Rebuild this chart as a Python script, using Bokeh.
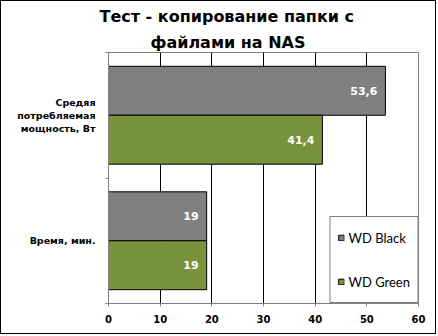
from bokeh.plotting import figure
from bokeh.models import Range1d, FixedTicker, Title
from bokeh.core.properties import value
from bokeh.embed import file_html
from bokeh.resources import INLINE

# ---- data ----
title_lines = ["Тест - копирование папки с", "файлами на NAS"]
categories = ["Средяя\nпотребляемая\nмощность, Вт", "Время, мин."]
series_names = ["WD Black", "WD Green"]
wd_black = [53.6, 19]
wd_green = [41.4, 19]
x_ticks = [0, 10, 20, 30, 40, 50, 60]

colors = ["#808080", "#77933C"]
series_values = [wd_black, wd_green]

p = figure(width=436, height=334, output_backend="svg", toolbar_location=None,
           x_range=Range1d(0, 60), y_range=Range1d(len(categories), 0),
           min_border_left=107, min_border_right=19, min_border_top=51,
           min_border_bottom=32, background_fill_color="white",
           border_fill_color="white")
p.title = None
p.styles = {"border": "1px solid black"}

# title lines: added bottom line first (closest to the frame)
title_offsets = [-9, 42]
title_paddings = [(0, 0, 0, 0), (0, 0, 9, 0)]
title_standoffs = [0, -3]
title_valign = ["bottom", "top"]
for i in reversed(range(len(title_lines))):
    t = Title(text=title_lines[i], align="left", offset=title_offsets[i],
              text_font="DejaVu Sans", text_font_style="bold",
              text_font_size="16px", text_color="black",
              standoff=title_standoffs[i], padding=title_paddings[i],
              vertical_align=title_valign[i])
    p.add_layout(t, "above")

p.outline_line_color = "#808080"
p.outline_line_width = 1

# grid
p.ygrid.grid_line_color = None
p.xgrid.grid_line_color = "black"
p.xgrid.grid_line_width = 1

# x axis
p.xaxis.ticker = FixedTicker(ticks=x_ticks, minor_ticks=[])
p.xaxis.axis_line_color = "#808080"
p.xaxis.major_tick_line_color = "#808080"
p.xaxis.major_tick_out = 3
p.xaxis.major_tick_in = 0
p.xaxis.minor_tick_line_color = None
p.xaxis.major_label_text_font = "DejaVu Sans"
p.xaxis.major_label_text_font_style = "bold"
p.xaxis.major_label_text_font_size = "10px"
p.xaxis.major_label_text_color = "black"
p.xaxis.major_label_standoff = 8

# y axis (categories at centers, tick marks at boundaries)
centers = [i + 0.5 for i in range(len(categories))]
bounds = [i for i in range(len(categories) + 1)]
p.yaxis.ticker = FixedTicker(ticks=centers, minor_ticks=bounds)
p.yaxis.major_label_overrides = {c: lab for c, lab in zip(centers, categories)}
p.yaxis.axis_line_color = "#808080"
p.yaxis.major_tick_line_color = None
p.yaxis.minor_tick_line_color = "#808080"
p.yaxis.minor_tick_out = 3
p.yaxis.minor_tick_in = 0
p.yaxis.major_label_text_font = "DejaVu Sans"
p.yaxis.major_label_text_font_style = "bold"
p.yaxis.major_label_text_font_size = "9.5px"
p.yaxis.major_label_text_color = "black"
p.yaxis.major_label_standoff = 7
p.yaxis.major_label_text_align = "center"

# bars
bar_h = 0.39
offsets = [-bar_h / 2, bar_h / 2]
for name, vals, col, off in zip(series_names, series_values, colors, offsets):
    ys = [c + off for c in centers]
    p.hbar(y=ys, left=0, right=vals, height=bar_h, fill_color=col,
           line_color="black", line_width=1, legend_label=name)
    labels = [f"{v:g}".replace(".", ",") for v in vals]
    p.text(x=vals, y=ys, text=labels, x_offset=-8, text_align="right",
           text_baseline="middle", text_color="white",
           text_font=value("DejaVu Sans"), text_font_style="bold",
           text_font_size="11px")

# legend
lg = p.legend[0]
lg.location = "bottom_right"
lg.margin = 0
lg.border_line_color = "black"
lg.border_line_width = 1
lg.background_fill_color = "white"
lg.background_fill_alpha = 1
lg.label_text_font = "Lato"
lg.label_text_font_size = "13px"
lg.label_text_color = "black"
lg.glyph_width = 7
lg.glyph_height = 7
lg.label_standoff = 4
lg.label_height = 27
lg.spacing = 17
lg.padding = 7

open("out.html", "w").write(file_html(p, INLINE))
